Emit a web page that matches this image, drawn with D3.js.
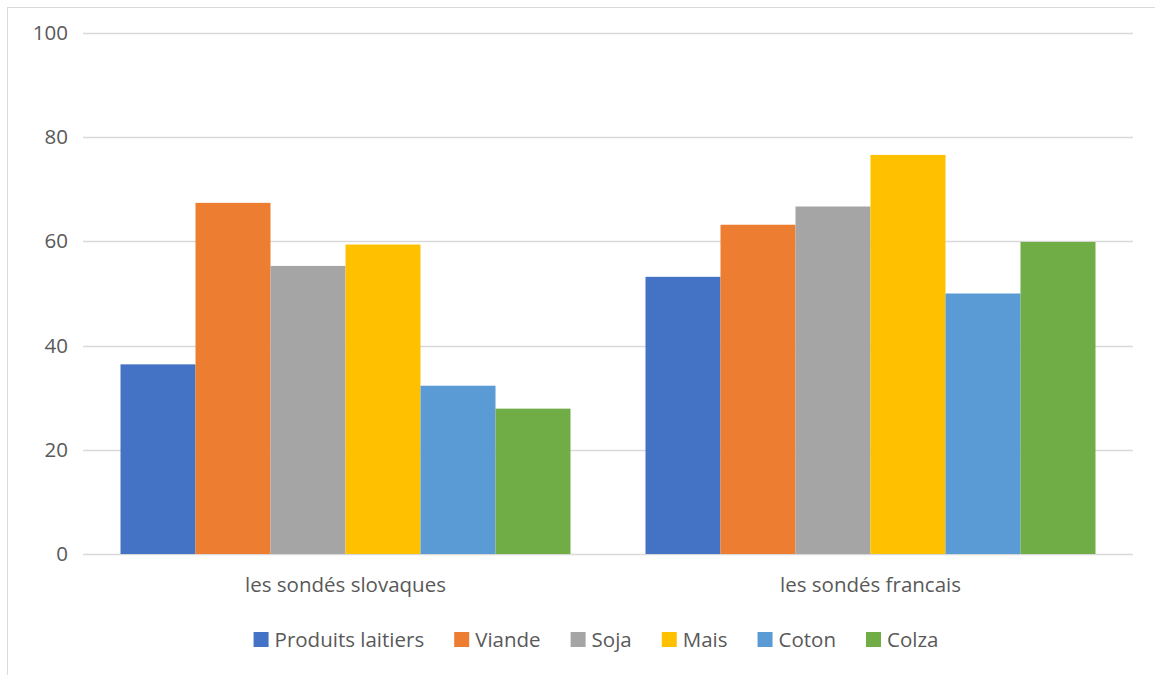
<!DOCTYPE html>
<html lang="fr">
<head>
<meta charset="UTF-8">
<title>Sondés slovaques et français</title>
<style>
  body { margin: 0; background: #fff; font-family: "Open Sans", "Noto Sans", sans-serif; }
  .axis text, .cat, .legend text { fill: #595959; }
  .grid line { stroke: #d9d9d9; stroke-width: 1.3px; }
</style>
</head>
<body>
<svg id="chart" width="1155" height="675"></svg>
<script src="https://d3js.org/d3.v7.min.js"></script>
<script>
var groups = ["les sondés slovaques", "les sondés francais"];
var series = ["Produits laitiers", "Viande", "Soja", "Mais", "Coton", "Colza"];
var colors = ["#4472C4", "#ED7D31", "#A5A5A5", "#FFC000", "#5B9BD5", "#70AD47"];
var slovaques = [36.4, 67.4, 55.3, 59.4, 32.3, 27.9];
var francais = [53.2, 63.2, 66.7, 76.6, 50.0, 59.9];
var yTicks = [0, 20, 40, 60, 80, 100];

var values = [slovaques, francais];
var svg = d3.select('#chart');

var plotLeft = 83, plotRight = 1133, plotTop = 33, plotBottom = 554;
var fontSize = '20.5px';

// chart border
svg.append('rect')
  .attr('x', 7.5).attr('y', 7.5)
  .attr('width', 1170).attr('height', 700)
  .attr('fill', 'none')
  .attr('stroke', '#d9d9d9');

var y = d3.scaleLinear().domain([0, 100]).range([plotBottom, plotTop]);
var x0 = d3.scaleBand().domain(groups).range([plotLeft, plotRight]);
var x1 = d3.scaleBand().domain(series)
  .range([0, x0.bandwidth()])
  .paddingOuter(0.5).paddingInner(0);

var color = d3.scaleOrdinal().domain(series).range(colors);

// gridlines
svg.append('g')
  .attr('class', 'grid')
  .selectAll('line')
  .data(yTicks)
  .enter()
  .append('line')
  .attr('x1', plotLeft).attr('x2', plotRight)
  .attr('y1', function(d) { return Math.round(y(d)) + 0.5; })
  .attr('y2', function(d) { return Math.round(y(d)) + 0.5; });

// y axis labels
var yAxis = d3.axisLeft(y).tickValues(yTicks).tickSize(0).tickPadding(0);
svg.append('g')
  .attr('class', 'axis')
  .attr('transform', 'translate(' + 68 + ',0)')
  .call(yAxis)
  .call(function(g) { g.select('.domain').remove(); })
  .selectAll('text')
  .style('font-size', fontSize)
  .style('font-family', '"Open Sans", "Noto Sans", sans-serif');

// bars
var groupSel = svg.selectAll('.group')
  .data(groups)
  .enter()
  .append('g')
  .attr('class', 'group')
  .attr('transform', function(d) { return 'translate(' + x0(d) + ',0)'; });

groupSel.selectAll('rect')
  .data(function(d, i) {
    return series.map(function(s, j) { return { key: s, value: values[i][j] }; });
  })
  .enter()
  .append('rect')
  .attr('x', function(d) { return x1(d.key); })
  .attr('y', function(d) { return y(d.value); })
  .attr('width', x1.bandwidth())
  .attr('height', function(d) { return plotBottom - y(d.value); })
  .attr('fill', function(d) { return color(d.key); });

// category labels
svg.selectAll('.cat')
  .data(groups)
  .enter()
  .append('text')
  .attr('class', 'cat')
  .attr('x', function(d) { return x0(d) + x0.bandwidth() / 2; })
  .attr('y', 592)
  .attr('text-anchor', 'middle')
  .style('font-size', fontSize)
  .text(function(d) { return d; });

// legend
var legend = svg.append('g').attr('class', 'legend');
var sw = 15, gap = 6, itemGap = 30;
var items = legend.selectAll('g')
  .data(series)
  .enter()
  .append('g');
items.append('rect')
  .attr('width', sw).attr('height', sw)
  .attr('y', 632)
  .attr('fill', function(d) { return color(d); });
items.append('text')
  .attr('x', sw + gap)
  .attr('y', 647)
  .style('font-size', fontSize)
  .text(function(d) { return d; });

var widths = [];
items.each(function() {
  widths.push(sw + gap + d3.select(this).select('text').node().getComputedTextLength());
});
var total = d3.sum(widths) + itemGap * (widths.length - 1);
var pos = 596 - total / 2;
var offsets = [];
widths.forEach(function(w) { offsets.push(pos); pos += w + itemGap; });
items.attr('transform', function(d, i) { return 'translate(' + offsets[i] + ',0)'; });
</script>
</body>
</html>
